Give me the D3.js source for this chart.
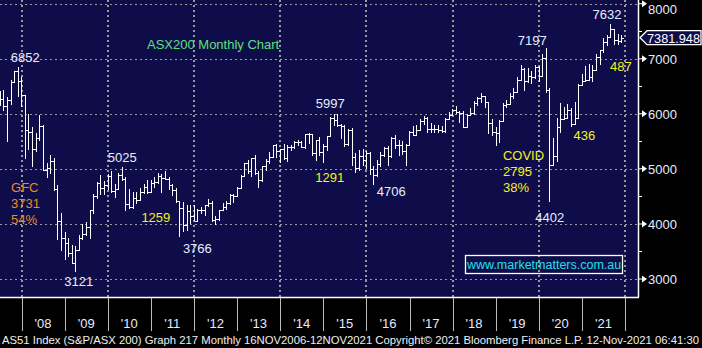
<!DOCTYPE html>
<html><head><meta charset="utf-8">
<script src="https://cdn.jsdelivr.net/npm/d3@7"></script>
<style>
html,body{margin:0;padding:0;background:#000;}
svg{display:block;font-family:"Liberation Sans",Arial,sans-serif;}
</style></head>
<body>
<svg id="c" width="702" height="348"></svg>
<script>
// ---- DATA (ASX200 monthly OHLC, Jun 2007 - Nov 2021) ----
const firstMonth = "2007-06";
const open = [
6340,6274,6136,6255,6580,6779,6593,
6340,5697,5673,5355,5557,5773,4979,5015,5143,4631,4047,3744,
3659,3478,3296,3532,3745,3813,3948,4249,4508,4739,4646,4716,
4871,4596,4638,4893,4807,4367,4301,4479,4436,4582,4675,4585,
4745,4753,4879,4842,4823,4710,4608,4412,4297,3985,4242,4153,
4057,4256,4251,4335,4384,4075,4095,4255,4316,4387,4518,4506,
4649,4879,5104,4966,5191,4927,4803,5052,5135,5218,5425,5321,
5352,5191,5405,5395,5489,5492,5396,5632,5625,5293,5527,5313,
5411,5588,5929,5891,5790,5777,5459,5699,5207,5022,5239,5166,
5296,5005,4880,5082,5252,5378,5233,5562,5433,5436,5317,5441,
5665,5621,5712,5865,5924,5724,5721,5720,5715,5682,5909,5970,
6065,6037,6016,5759,5982,6012,6195,6281,6320,6208,5830,5667,
5646,5865,6169,6181,6326,6397,6619,6813,6604,6688,6663,6846,
6684,7017,6441,5077,5242,5756,5898,5928,6061,5816,5928,6518,
6587,6607,6673,6791,7025,7162,7313,7393,7535,7333,7324];
const high = [
6418,6437,6300,6620,6780,6852,6673,
6340,5990,5760,5660,5980,5800,5100,5250,5200,4700,4200,3850,
3750,3610,3600,3800,3990,4040,4250,4550,4770,4880,4780,4900,
4960,4720,4930,5025,4850,4640,4580,4580,4650,4720,4800,4800,
4850,4930,4900,4970,4860,4720,4650,4420,4400,4350,4350,4340,
4280,4300,4350,4460,4420,4150,4260,4380,4420,4540,4540,4670,
4880,5110,5160,5200,5260,4960,5060,5180,5300,5440,5460,5360,
5450,5440,5440,5500,5530,5510,5640,5660,5640,5530,5580,5460,
5590,5940,5997,5990,5820,5800,5720,5750,5290,5350,5370,5320,
5300,5050,5160,5300,5400,5420,5570,5610,5520,5500,5460,5680,
5770,5800,5900,5960,5950,5830,5800,5800,5770,5920,6030,6090,
6150,6060,6060,6000,6100,6230,6300,6370,6320,6220,5900,5760,
5880,6200,6250,6380,6470,6670,6880,6840,6830,6780,6880,6870,
7090,7197,6460,5560,5920,6200,6130,6170,6100,6220,6540,6720,
6870,6900,6890,7080,7160,7370,7440,7632,7540,7450,7440];
const low = [
6150,6050,5491,6158,6553,6310,6127,
5186,5336,5036,5300,5500,4970,4830,4900,4600,3700,3500,3350,
3400,3270,3121,3510,3700,3780,3720,4180,4450,4530,4530,4610,
4560,4480,4620,4780,4240,4280,4270,4360,4430,4540,4550,4580,
4650,4720,4560,4800,4620,4500,4380,3766,3850,3870,4000,4050,
4040,4180,4150,4300,4030,3980,4060,4230,4250,4340,4380,4500,
4640,4860,4900,4860,4880,4650,4760,4970,5080,5190,5200,5110,
5160,5130,5320,5360,5420,5380,5370,5450,5240,5150,5230,5110,
5320,5580,5770,5760,5540,5400,5420,5060,4920,4960,5050,4990,
4890,4706,4860,5030,5220,5060,5200,5370,5240,5260,5050,5420,
5590,5590,5680,5800,5650,5650,5660,5660,5650,5660,5880,5960,
5990,5840,5740,5750,5960,5980,6150,6200,6100,5640,5600,5410,
5470,5860,6100,6170,6260,6380,6600,6410,6560,6540,6640,6570,
6680,6370,4402,5050,5120,5660,5880,5900,5760,5810,5910,6510,
6570,6600,6580,6780,6880,7100,7230,7390,7250,7250,7290];
const close = [
6274,6136,6255,6580,6779,6593,6340,
5697,5673,5355,5557,5773,4979,5015,5143,4631,4047,3744,3659,
3478,3296,3532,3745,3813,3948,4249,4508,4739,4646,4716,4871,
4596,4638,4893,4807,4367,4301,4479,4436,4582,4675,4585,4745,
4753,4879,4842,4823,4710,4608,4412,4297,3985,4242,4153,4057,
4256,4251,4335,4384,4075,4095,4255,4316,4387,4518,4506,4649,
4879,5104,4966,5191,4927,4803,5052,5135,5218,5425,5321,5352,
5191,5405,5395,5489,5492,5396,5632,5625,5293,5527,5313,5411,
5588,5929,5891,5790,5777,5459,5699,5207,5022,5239,5166,5296,
5005,4880,5082,5252,5378,5233,5562,5433,5436,5317,5441,5665,
5621,5712,5865,5924,5724,5721,5720,5715,5682,5909,5970,6065,
6037,6016,5759,5982,6012,6195,6281,6320,6208,5830,5667,5646,
5865,6169,6181,6326,6397,6619,6813,6604,6688,6663,6846,6684,
7017,6441,5077,5242,5756,5898,5928,6061,5816,5928,6518,6587,
6607,6673,6791,7025,7162,7313,7393,7535,7333,7324,7382];
const lastPrice = "7381.948";
const yTicks = [3000,4000,5000,6000,7000,8000];
const yMinor = [3500,4500,5500,6500,7500];
const yearLabels = ["'08","'09","'10","'11","'12","'13","'14","'15","'16","'17","'18","'19","'20","'21"];
const annotations = [
  {t:"6852", v:6852, m:"2007-11", dx:-7, dy:-5, c:"white"},
  {t:"5025", v:5025, m:"2010-04", dx:-14, dy:-5, c:"white"},
  {t:"3121", v:3121, m:"2009-03", dx:-11, dy:14, c:"white"},
  {t:"3766", v:3766, m:"2011-08", dx:3.5, dy:16.5, c:"white"},
  {t:"5997", v:5997, m:"2015-03", dx:-18, dy:-6, c:"white"},
  {t:"4706", v:4706, m:"2016-02", dx:3.5, dy:11, c:"white"},
  {t:"7197", v:7197, m:"2020-02", dx:-28, dy:-3, c:"white"},
  {t:"4402", v:4402, m:"2020-03", dx:-14, dy:20, c:"white"},
  {t:"7632", v:7632, m:"2021-08", dx:-18, dy:-5, c:"white"}
];
const notes = [
  {lines:["GFC","3731","54%"], m:"2008-01", v:4576, dx:-14, c:"orange"},
  {lines:["1259"], m:"2011-01", v:4031, dx:-13, c:"yellow"},
  {lines:["1291"], m:"2015-04", v:4758, dx:-22, c:"yellow"},
  {lines:["COVID","2795","38%"], m:"2019-11", v:5158, dx:-32, c:"yellow"},
  {lines:["436"], m:"2020-10", v:5522, dx:-1, c:"yellow"},
  {lines:["487"], m:"2021-09", v:6776, dx:-4, c:"yellow"}
];
const title = "ASX200 Monthly Chart";
const website = "www.marketmatters.com.au";
const footer = "AS51 Index (S&P/ASX 200) Graph 217  Monthly 16NOV2006-12NOV2021 Copyright\u00A9 2021 Bloomberg Finance L.P. 12-Nov-2021 06:41:30";

// ---- LAYOUT ----
const W = 702, H = 348, plotR = 638, plotB = 297;
const colors = {white:"#e6ecff", yellow:"#f2f21e", orange:"#f08a1c"};
const svg = d3.select("#c");
const parse = d3.timeParse("%Y-%m");
const monthEnd = s => { const d = parse(s); return new Date(d.getFullYear(), d.getMonth()+1, 0); };

const x = d3.scaleTime().domain([new Date(2008,0,1), new Date(2022,0,1)]).range([21.5, 625]);
const y = d3.scaleLinear().domain([2673, 8067]).range([plotB, 0]);

svg.append("rect").attr("width",W).attr("height",H).attr("fill","#000");
svg.append("rect").attr("width",plotR).attr("height",plotB).attr("fill","#0f0d49");

// grid
const grid = svg.append("g").attr("stroke","#9a9a9a").attr("stroke-width",1.5)
  .attr("stroke-dasharray","2,3").attr("shape-rendering","crispEdges");
yTicks.forEach(v => grid.append("line").attr("x1",0).attr("x2",plotR)
  .attr("y1",Math.round(y(v))+0.5).attr("y2",Math.round(y(v))+0.5));
d3.range(2008, 2023, 2).forEach(yr => {
  const gx = Math.round(x(new Date(yr,0,1)));
  grid.append("line").attr("x1",gx).attr("x2",gx).attr("y1",0).attr("y2",plotB);
});

// bars
const months = d3.timeMonth.range(parse(firstMonth), new Date(2021,11,1));
svg.append("clipPath").attr("id","pc").append("rect").attr("width",plotR).attr("height",plotB);
const bars = svg.append("g").attr("clip-path","url(#pc)").attr("stroke","#fff")
  .attr("stroke-width",1).attr("shape-rendering","crispEdges");
months.forEach((d,i) => {
  const bx = Math.round(x(new Date(d.getFullYear(), d.getMonth()+1, 0))) + 0.5;
  bars.append("line").attr("x1",bx).attr("x2",bx).attr("y1",y(high[i])).attr("y2",y(low[i])).attr("stroke-width",1.3);
  bars.append("line").attr("x1",bx-2).attr("x2",bx).attr("y1",Math.round(y(open[i]))+0.5).attr("y2",Math.round(y(open[i]))+0.5);
  bars.append("line").attr("x1",bx).attr("x2",bx+2).attr("y1",Math.round(y(close[i]))+0.5).attr("y2",Math.round(y(close[i]))+0.5);
});

// plot frame
svg.append("line").attr("x1",0).attr("x2",plotR+1).attr("y1",plotB+0.5).attr("y2",plotB+0.5).attr("stroke","#fff").attr("stroke-width",1.5);
svg.append("line").attr("x1",plotR+0.5).attr("x2",plotR+0.5).attr("y1",0).attr("y2",plotB).attr("stroke","#fff").attr("stroke-width",1.5);

// right axis
const ax = svg.append("g");
yTicks.forEach(v => {
  const ty = y(v);
  ax.append("path").attr("d",`M${plotR},${ty-0.5}h4v-3l5,3.5l-5,3.5v-3h-4z`).attr("fill","#fff");
  ax.append("text").attr("x",648).attr("y",Math.max(ty+5, 13.5)).attr("font-size",13).attr("fill",colors.white).text(d3.format("d")(v));
});
yMinor.forEach(v => {
  ax.append("line").attr("x1",plotR).attr("x2",plotR+4).attr("y1",Math.round(y(v))+0.5).attr("y2",Math.round(y(v))+0.5)
    .attr("stroke","#fff").attr("stroke-width",1);
});
// last price box
const lp = y(+lastPrice);
ax.append("path").attr("d",`M640,${lp} L647,${lp-7} H701 V${lp+7} H647 Z`)
  .attr("fill","#0f0d49").attr("stroke","#fff").attr("stroke-width",1.3);
ax.append("text").attr("x",647).attr("y",lp+5).attr("font-size",13.5).attr("fill","#fff")
  .attr("textLength",53).attr("lengthAdjust","spacingAndGlyphs").text(lastPrice);

// x axis
const xa = svg.append("g");
d3.range(2008, 2023).forEach(yr => {
  const tx = Math.round(x(new Date(yr,0,1))) + 0.5;
  xa.append("line").attr("x1",tx).attr("x2",tx).attr("y1",plotB+1).attr("y2",331).attr("stroke","#bcbcbc").attr("stroke-width",1);
});
yearLabels.forEach((lab,i) => {
  const cx = x(new Date(2008+i,6,2));
  xa.append("text").attr("x",cx).attr("y",328).attr("text-anchor","middle").attr("font-size",13)
    .attr("fill",colors.white).text(lab);
});
svg.append("text").attr("x",2).attr("y",343.5).attr("font-size",11.5).attr("fill","#f0f0f0")
  .attr("textLength",697).attr("lengthAdjust","spacingAndGlyphs").text(footer);

// title
svg.append("text").attr("x",147).attr("y",49).attr("font-size",13).attr("fill","#5ee07c").text(title);

// annotations
annotations.forEach(a => {
  svg.append("text").attr("x",x(monthEnd(a.m))+a.dx).attr("y",y(a.v)+a.dy)
    .attr("font-size",13).attr("fill",colors[a.c]).text(a.t);
});
notes.forEach(n => {
  n.lines.forEach((l,j) => {
    svg.append("text").attr("x",x(monthEnd(n.m))+n.dx).attr("y",y(n.v)+j*16)
      .attr("font-size",13).attr("fill",colors[n.c]).text(l);
  });
});

// website box
svg.append("rect").attr("x",465.5).attr("y",255.5).attr("width",157).attr("height",18)
  .attr("fill","none").attr("stroke","#fff").attr("stroke-width",1.3);
svg.append("text").attr("x",467).attr("y",269).attr("font-size",12.5).attr("fill","#1fe0e8").text(website);
</script>
</body></html>
